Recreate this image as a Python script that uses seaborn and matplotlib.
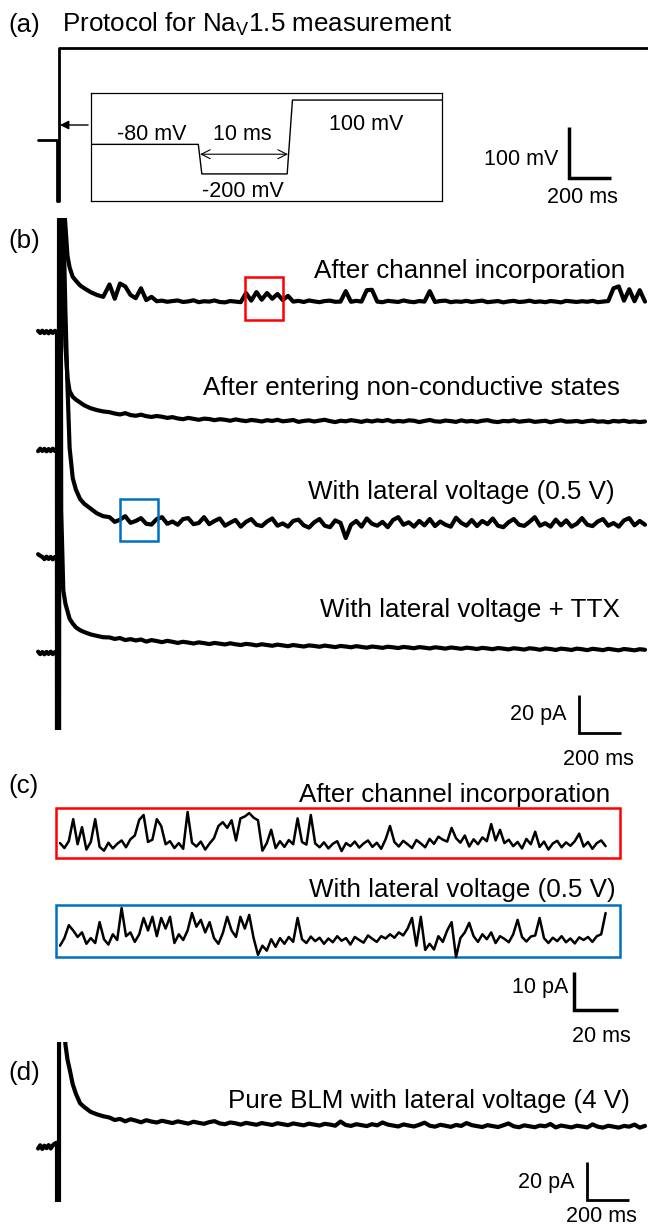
import numpy as np
import matplotlib
matplotlib.use("Agg")
import matplotlib.pyplot as plt
import seaborn as sns
from matplotlib.patches import Rectangle

sns.set_style("white")
plt.rcParams['font.family'] = ['Liberation Sans', 'DejaVu Sans']
plt.rcParams['text.color'] = 'black'
plt.rcParams['mathtext.fontset'] = 'custom'
plt.rcParams['mathtext.rm'] = 'Liberation Sans'
plt.rcParams['mathtext.it'] = 'Liberation Sans:italic'

W, H = 648, 1225

# --- (a) voltage protocol (ms, mV) ---
PROTOCOL_T = [-90, 0, 0, 10, 10, 2815]
PROTOCOL_MV = [-80, -80, -200, -200, 100, 100]
INSET_T = [-12.4, -0.2, 0.2, 9.9, 10.5, 27.5]
INSET_MV = [-80, -80, -200, -200, 100, 100]

# --- (b)/(d) current traces (ms, pA relative to holding current) ---
PRE_T = [-90, -80, -70, -60, -50, -40, -30, -20, -10, -3]
DECAY_T = [0, 1, 9, 11, 20, 30, 40, 50, 60, 75, 90, 110, 130, 160, 190, 220]
PLATEAU_T = np.arange(250, 2801, 25)

PRE_1 = [0.6, -0.5, 0.7, -0.6, 0.5, -0.7, 0.6, -0.5, 0.6, 0.0]
PRE_2 = [-0.6, 0.7, -0.5, 0.6, -0.7, 0.5, -0.6, 0.7, -0.5, 0.0]
PRE_3 = [2.0, 1.2, 0.6, -0.6, 0.7, -0.5, 0.6, -0.7, 0.5, 0.0]
PRE_4 = [0.7, -0.6, 0.5, -0.7, 0.6, -0.5, 0.7, -0.6, 0.5, 0.0]
PRE_D = [-0.8, 0.9, -1.0, 0.7, -0.6, 1.0, -0.8, 0.9, 1.8, 2.2]

DECAY_1 = [0, -400, -300, 700, 110, 72, 56, 40, 34, 29, 27, 24.5, 23, 21, 19.5, 18.5]
DECAY_2 = [0, -400, -300, 700, 200, 95, 55, 38, 31, 28, 26.5, 25, 23.5, 22, 21, 20.3]
DECAY_3 = [0, -400, -300, 700, 250, 180, 130, 90, 58, 42, 36, 31, 28.5, 26, 23.5, 22]
DECAY_4 = [0, -400, -300, 700, 75, 33, 26, 22, 18, 15.5, 13.5, 12, 11, 9.8, 9, 8.3]
DECAY_D = [2.2, -400, -300, 700, 150, 80, 54, 46, 41, 33, 28, 23, 21, 18.5, 17.2, 16.2]

PLATEAU_1 = [25.0, 17.5, 25.5, 24.0, 19.5, 17.8, 23.0, 16.8, 18.5, 16.2,
             16.5, 15.9, 16.3, 16.6, 15.8, 16.1, 16.7, 15.7, 16.2, 16.0,
             16.6, 15.8, 15.6, 16.3, 16.0, 15.7, 20.5, 16.5, 21.0, 17.0,
             20.5, 17.5, 20.0, 16.8, 19.0, 16.0, 16.4, 15.8, 16.6, 16.1,
             15.7, 16.3, 16.5, 15.9, 16.0, 21.5, 15.9, 16.4, 16.0, 22.0,
             22.2, 16.0, 15.7, 16.4, 16.1, 15.8, 16.6, 16.0, 15.7, 16.3,
             16.0, 21.5, 15.8, 16.3, 16.5, 15.7, 16.1, 15.9, 16.4, 15.8,
             16.2, 16.5, 15.7, 16.0, 16.3, 15.6, 16.1, 16.4, 15.8, 16.0,
             16.5, 15.8, 16.1, 15.7, 16.3, 16.0, 15.6, 16.4, 16.1, 15.8,
             16.2, 15.9, 16.4, 15.7, 16.0, 16.3, 23.0, 24.0, 16.5, 22.5,
             16.2, 22.0, 16.0]
PLATEAU_2 = [19.9, 19.2, 18.7, 19.4, 18.4, 18.0, 18.6, 17.8, 17.4, 17.9,
             17.5, 16.9, 17.3, 16.6, 16.2, 16.9, 16.4, 15.9, 16.5, 16.3,
             15.7, 16.2, 15.9, 15.4, 16.1, 15.6, 15.2, 15.8, 15.5, 15.0,
             15.7, 15.3, 15.9, 15.1, 15.4, 15.8, 14.8, 15.3, 15.6, 15.0,
             15.5, 15.9, 15.2, 14.7, 15.4, 15.1, 15.7, 15.3, 14.8, 15.5,
             15.0, 15.6, 15.2, 15.8, 14.9, 15.3, 15.0, 15.6, 15.4, 14.7,
             15.3, 15.8, 15.1, 14.9, 15.5, 15.2, 14.8, 15.6, 15.0, 15.3,
             14.8, 15.4, 15.7, 15.0, 14.7, 15.3, 15.1, 15.6, 14.9, 15.2,
             15.5, 14.8, 15.1, 15.4, 14.6, 15.2, 15.6, 14.9, 15.0, 15.3,
             14.7, 15.2, 15.5, 14.9, 15.1, 14.6, 15.3, 15.0, 15.4, 14.8,
             15.1, 14.7, 15.0]
PLATEAU_3 = [21.5, 19.0, 20.2, 22.0, 18.5, 19.5, 21.0, 18.0, 17.6, 20.5,
             21.5, 18.0, 19.2, 17.5, 20.5, 21.0, 17.8, 18.4, 21.5, 17.8,
             19.5, 20.8, 17.0, 18.6, 20.0, 16.5, 19.0, 20.5, 17.5, 16.8,
             19.2, 20.8, 17.0, 18.2, 16.5, 19.5, 20.2, 17.2, 16.0, 18.8,
             20.5, 17.0, 16.2, 19.8, 18.5, 10.5, 17.5, 19.5, 16.5, 20.8,
             18.0, 17.0, 19.0, 16.2, 20.0, 21.5, 17.5, 18.8, 16.5, 19.5,
             17.2, 20.5, 16.8, 19.2, 17.5, 16.5, 21.2, 18.5, 17.0, 20.0,
             16.8, 19.5, 17.8, 20.8, 17.0, 16.2, 18.8, 20.5, 17.5, 16.9,
             19.0, 21.5, 17.0, 18.3, 16.5, 20.2, 17.2, 19.8, 16.5, 18.0,
             21.0, 17.5, 16.8, 19.2, 20.5, 17.0, 18.4, 16.5, 19.8, 21.0,
             17.2, 19.5, 17.5]
PLATEAU_4 = [8.2, 7.4, 7.9, 6.8, 7.3, 6.6, 7.1, 6.0, 6.8, 6.3,
             5.7, 6.4, 5.9, 5.3, 5.9, 5.5, 5.0, 5.6, 5.2, 4.7,
             5.3, 4.9, 4.5, 5.1, 4.6, 4.2, 4.8, 4.5, 4.0, 4.6,
             4.2, 3.8, 4.4, 4.0, 3.6, 4.2, 3.8, 3.4, 4.0, 3.7,
             3.3, 3.9, 3.5, 3.1, 3.7, 3.4, 3.0, 3.6, 3.2, 2.8,
             3.4, 3.1, 2.7, 3.3, 3.0, 2.6, 3.2, 2.9, 2.5, 3.1,
             2.8, 2.4, 3.0, 2.7, 2.3, 2.9, 2.6, 2.2, 2.8, 2.5,
             2.1, 2.7, 2.4, 2.0, 2.6, 2.3, 1.9, 2.5, 2.2, 1.8,
             2.5, 2.2, 1.7, 2.4, 2.1, 1.6, 2.3, 2.0, 1.6, 2.3,
             2.0, 1.5, 2.2, 1.9, 1.5, 2.2, 1.8, 1.4, 2.1, 1.8,
             1.4, 2.0, 1.7]
PLATEAU_D = [15.5, 14.2, 14.8, 13.5, 14.6, 13.9, 13.0, 14.1, 13.4, 12.9,
             13.8, 13.2, 12.6, 13.5, 12.9, 12.3, 13.3, 12.7, 12.2, 13.1,
             13.6, 12.4, 12.0, 12.9, 12.5, 11.8, 12.7, 12.2, 11.7, 12.6,
             12.1, 11.6, 12.5, 12.0, 11.5, 12.4, 11.9, 11.4, 12.3, 11.8,
             11.3, 12.2, 11.8, 11.2, 13.4, 11.6, 11.1, 12.0, 11.5, 11.0,
             12.0, 11.4, 12.9, 11.8, 11.3, 10.8, 11.9, 11.3, 10.8, 11.7,
             12.8, 11.2, 10.7, 11.7, 11.2, 10.6, 11.6, 11.1, 12.6, 11.5,
             11.0, 10.5, 11.5, 11.0, 10.5, 11.4, 12.4, 10.9, 10.4, 11.4,
             10.9, 10.4, 11.3, 10.9, 12.1, 10.3, 11.3, 10.8, 10.3, 11.2,
             10.8, 10.3, 11.9, 10.7, 10.2, 11.2, 10.7, 10.2, 11.1, 10.7,
             11.8, 10.2, 11.1]

# --- (c) zoomed single-channel traces (ms, pA) ---
ZOOM_T = np.arange(0, 249, 2)
ZOOM_1 = [0.5, -0.8, 1.0, 6.8, 0.2, 4.7, -1.2, 0.8, 6.8, -0.5,
          -1.5, 0.6, -0.9, 0.3, 1.2, -0.6, 1.5, 2.5, 6.6, 7.9,
          0.8, 1.4, 6.8, 5.0, 0.2, 1.0, -0.8, 0.5, -1.0, 8.7,
          0.6, -0.4, 0.9, -1.2, 0.4, 1.8, 5.0, 6.0, 4.5, 6.5,
          1.2, 7.0, 7.5, 8.4, 7.2, 6.5, -1.5, 0.5, 4.0, -0.8,
          1.0, -0.5, 1.3, 0.2, 7.0, 0.8, 0.1, 7.9, 0.4, -0.6,
          0.7, -0.9, 0.3, 1.0, -1.6, 0.5, -0.3, 0.9, -0.7, 0.4,
          1.2, -0.5, 0.6, -1.0, 1.5, 5.0, 0.8, -0.4, 1.1, 0.2,
          -0.8, 1.3, 0.4, -0.6, 1.6, 0.3, 2.2, 1.4, 0.9, 4.5,
          1.8, 0.6, 2.5, -0.4, 1.5, 0.2, 2.0, 1.0, 5.5, 1.2,
          4.0, 0.5, 1.4, -0.3, 0.8, -0.9, 1.6, 0.2, 3.5, -0.5,
          0.9, -1.2, 0.4, 1.1, -0.6, 0.7, -0.2, 1.0, 3.0, -0.4,
          0.8, -1.0, 0.5, 1.2, -0.3]
ZOOM_2 = [-1.5, 0.5, 3.9, 2.5, 0.8, 2.0, -1.0, 0.5, -0.8, 4.7,
          0.2, -1.2, 1.5, 0.0, 8.4, 1.0, 2.0, -0.5, 1.5, 5.8,
          2.5, 6.1, 1.0, 5.8, 3.0, 6.1, -0.8, 1.5, 0.0, 2.5,
          7.1, 3.5, 5.3, 2.0, 4.7, 0.5, -1.0, 1.8, 6.1, 2.5,
          0.8, 6.1, 3.0, 6.6, 0.5, -3.9, -1.5, -2.8, 0.2, -1.8,
          0.5, -1.0, 0.8, -0.5, 5.8, 0.2, -0.8, 0.9, -0.3, 0.6,
          -1.0, 0.4, -0.6, 1.0, -0.2, 0.5, -1.2, 0.8, 0.0, -0.7,
          1.2, 0.3, -0.5, 1.0, 0.4, 1.5, 0.6, 2.0, 1.2, 3.0,
          5.8, -1.5, 6.1, -2.6, -1.0, -2.5, 1.0, -0.5, 2.5, 4.7,
          -4.5, 0.5, 2.0, 4.5, 1.0, -0.5, 1.5, 0.2, 2.0, -0.8,
          1.0, 0.3, -0.6, 1.5, 5.3, 0.8, -0.4, 0.9, 1.2, 5.8,
          0.5, -0.8, 0.6, -0.3, 1.0, -0.6, 0.4, -0.9, 0.7, 0.0,
          0.8, -0.5, 1.0, 1.5, 7.1]

LABELS_B = ["After channel incorporation",
            "After entering non-conductive states",
            "With lateral voltage (0.5 V)",
            "With lateral voltage + TTX"]
LABELS_C = ["After channel incorporation", "With lateral voltage (0.5 V)"]
LABEL_D = "Pure BLM with lateral voltage (4 V)"

# pixel layout helpers
fig = plt.figure(figsize=(W / 100, H / 100), dpi=100)
PX_MS = 0.21          # px per ms for (a), (b), (d)
T_LIM = ((30 - 57) / PX_MS, (648 - 57) / PX_MS)


def px_axes(x0, y0, x1, y1, frame=False):
    ax = fig.add_axes([x0 / W, 1 - y1 / H, (x1 - x0) / W, (y1 - y0) / H])
    if frame:
        ax.set_xticks([])
        ax.set_yticks([])
        for s in ax.spines.values():
            s.set_color('black')
            s.set_linewidth(0.9)
    else:
        ax.set_axis_off()
    return ax


def px_text(x, y, s, size, ha='left'):
    fig.text(x / W, 1 - y / H, s, fontsize=size, ha=ha, va='baseline')


def trace(ax, t, v, offset=0.0, lw=2.2):
    sns.lineplot(x=np.asarray(t, float), y=np.asarray(v, float) + offset, ax=ax,
                 color='black', linewidth=lw, sort=False, estimator=None)


def scale_bar(ax, x, y, dx, dy, lw=2.0):
    ax.plot([x, x, x + dx], [y + dy, y, y], color='black', lw=lw,
            solid_joinstyle='miter', solid_capstyle='butt', clip_on=False)


LAB = 18.7
SCL = 15.5

# ---------------- (a) ----------------
ax_a = px_axes(30, 44, 648, 205)
ax_a.set_xlim(*T_LIM)
ax_a.set_ylim(-207.2, 107.8)
trace(ax_a, PROTOCOL_T, PROTOCOL_MV, lw=2.0)
scale_bar(ax_a, 2440, -155, 200, 100, lw=2.5)
ax_a.annotate('', xy=(14, -50.7), xytext=(148, -50.7),
              arrowprops=dict(arrowstyle='-|>', color='black', lw=1.0,
                              mutation_scale=13, shrinkA=0, shrinkB=0))

ax_in = px_axes(91, 93, 442, 201, frame=True)
ax_in.set_xlim(-12.4, 27.5)
ax_in.set_ylim(-310, 128.6)
trace(ax_in, INSET_T, INSET_MV, lw=1.0)
ax_in.annotate('', xy=(10.0, -120), xytext=(0.0, -120),
               arrowprops=dict(arrowstyle='<->', color='black', lw=0.8,
                               mutation_scale=16, shrinkA=0, shrinkB=0))

px_text(8, 32, "(a)", LAB)
px_text(62, 32, r"Protocol for Na$_{\mathregular{V}}$1.5 measurement", LAB)
px_text(152, 140, "-80 mV", SCL, ha='center')
px_text(242, 140, "10 ms", SCL, ha='center')
px_text(366, 130, "100 mV", SCL, ha='center')
px_text(243, 197, "-200 mV", SCL, ha='center')
px_text(558, 165, "100 mV", SCL, ha='right')
px_text(582, 203, "200 ms", SCL, ha='center')

# ---------------- (b) ----------------
B_PX = 1.9           # px per pA
ax_b = px_axes(30, 218, 648, 730)
ax_b.set_xlim(*T_LIM)
ax_b.set_ylim(0, 512 / B_PX)
b_base_px = [332, 450, 558, 653]
b_sets = [(PRE_1, DECAY_1, PLATEAU_1), (PRE_2, DECAY_2, PLATEAU_2),
          (PRE_3, DECAY_3, PLATEAU_3), (PRE_4, DECAY_4, PLATEAU_4)]
b_t = list(PRE_T) + list(DECAY_T) + list(PLATEAU_T)
for base, (pre, dec, pla) in zip(b_base_px, b_sets):
    trace(ax_b, b_t, list(pre) + list(dec) + list(pla),
          offset=(730 - base) / B_PX, lw=3.0)

ax_b.add_patch(Rectangle(((245 - 57) / PX_MS, (730 - 320) / B_PX), 38 / PX_MS, 43 / B_PX,
                         fill=False, edgecolor='#ff0000', lw=1.8, zorder=5))
ax_b.add_patch(Rectangle(((120 - 57) / PX_MS, (730 - 541) / B_PX), 38 / PX_MS, 42 / B_PX,
                         fill=False, edgecolor='#0070c0', lw=1.8, zorder=5))
scale_bar(ax_b, (579 - 57) / PX_MS, -3 / B_PX, 200, 20)

px_text(8, 248, "(b)", LAB)
for (xr, yb), lab in zip([(625, 278), (620, 395), (615, 499), (620, 617)], LABELS_B):
    px_text(xr, yb, lab, LAB, ha='right')
px_text(567, 720, "20 pA", SCL, ha='right')
px_text(598, 765, "200 ms", SCL, ha='center')

# ---------------- (c) ----------------
C_MS, C_PA = 2.2, 3.8
ax_c = px_axes(30, 770, 648, 1045)
ax_c.set_xlim((30 - 60) / C_MS, (648 - 60) / C_MS)
ax_c.set_ylim((1010 - 1045) / C_PA, (1010 - 770) / C_PA)
trace(ax_c, ZOOM_T, ZOOM_1, offset=(1010 - 845) / C_PA, lw=1.8)
trace(ax_c, ZOOM_T, ZOOM_2, offset=(1010 - 940) / C_PA, lw=1.8)
for (top, bot), col in zip([(808, 858), (905, 957)], ['#ff0000', '#0070c0']):
    ax_c.add_patch(Rectangle(((56 - 60) / C_MS, (1010 - bot) / C_PA), 564 / C_MS,
                             (bot - top) / C_PA, fill=False, edgecolor=col, lw=1.8))
scale_bar(ax_c, (574 - 60) / C_MS, 0, 20, 10, lw=2.5)

px_text(8, 793, "(c)", LAB)
px_text(610, 802, LABELS_C[0], LAB, ha='right')
px_text(616, 897, LABELS_C[1], LAB, ha='right')
px_text(568, 993, "10 pA", SCL, ha='right')
px_text(601, 1042, "20 ms", SCL, ha='center')

# ---------------- (d) ----------------
ax_d = px_axes(30, 1042, 648, 1202)
ax_d.set_xlim(*T_LIM)
ax_d.set_ylim((1147 - 1202) / B_PX, (1147 - 1042) / B_PX)
trace(ax_d, b_t, list(PRE_D) + list(DECAY_D) + list(PLATEAU_D), lw=3.0)
scale_bar(ax_d, (587 - 57) / PX_MS, -53 / B_PX, 200, 20)

px_text(8, 1080, "(d)", LAB)
px_text(630, 1108, LABEL_D, LAB, ha='right')
px_text(575, 1188, "20 pA", SCL, ha='right')
px_text(601, 1222, "200 ms", SCL, ha='center')

fig.savefig("out.png", dpi=100, facecolor='white')
